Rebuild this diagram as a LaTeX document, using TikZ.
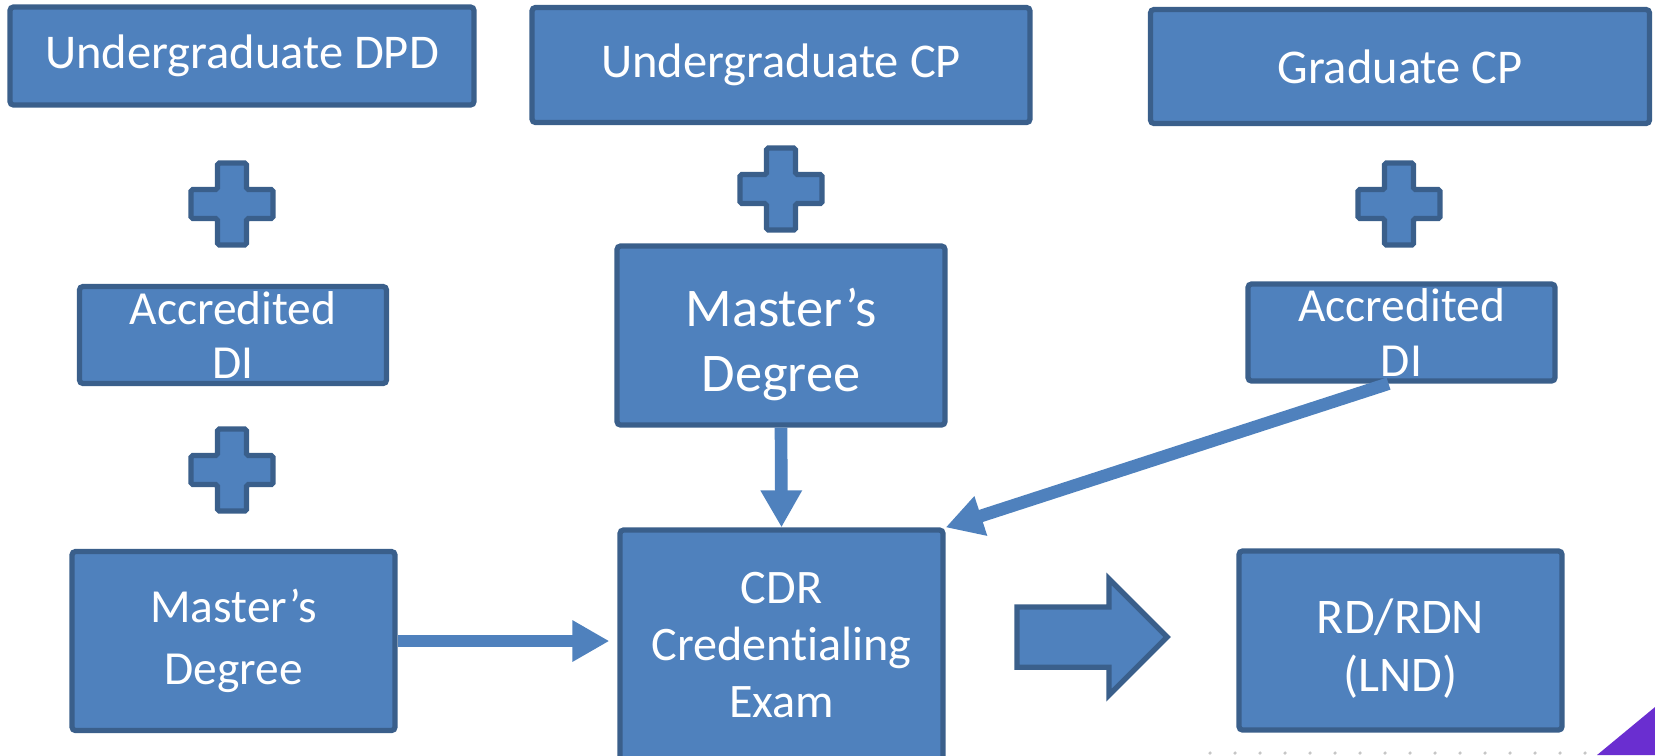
\documentclass[tikz,border=0pt]{standalone}
\usepackage{fontspec}
\setmainfont[Ligatures=NoCommon]{Carlito}
\usepackage{tikz}
\usetikzlibrary{arrows.meta,shapes.arrows}
\definecolor{boxfill}{HTML}{4F81BD}
\definecolor{boxedge}{HTML}{3A5F8B}
\definecolor{cornerpurple}{RGB}{106,46,208}
\newcommand*\boxline{1.5pt}
\newcommand*\linkwidth{3.6pt}
\newcommand*\plusarm{0.145}
\newcommand*\plushalf{0.41}
\tikzset{
    box/.style      = {draw=boxedge, fill=boxfill, line width=\boxline,
                      rounded corners=1pt, text=white, align=center,
                      inner sep=0pt, font=\fontsize{13.8}{17}\selectfont},
    dibox/.style    = {box, minimum width=3.07cm, minimum height=0.97cm,
                      font=\fontsize{13.5}{15.6}\selectfont},
    degreebox/.style= {box, minimum width=3.23cm, minimum height=1.79cm,
                      font=\fontsize{13.5}{17.5}\selectfont},
    examtext/.style = {font=\fontsize{13.7}{16.2}\selectfont},
    rdtext/.style   = {font=\fontsize{14.2}{16.6}\selectfont},
    bigarrow/.style = {single arrow, draw=boxedge, fill=boxfill,
                      line width=\boxline, inner sep=0.275cm,
                      minimum height=1.5cm, single arrow head extend=0.28cm},
    link/.style     = {draw=boxfill, line width=\linkwidth,
                      -{Triangle[width=0.39cm,length=0.37cm]}},
    plusmark/.pic   = {
        \filldraw[draw=boxedge, fill=boxfill, line width=\boxline,
                  rounded corners=0.5pt]
          (-\plushalf,-\plusarm) -- (-\plusarm,-\plusarm) -- (-\plusarm,-\plushalf)
          -- (\plusarm,-\plushalf) -- (\plusarm,-\plusarm) -- (\plushalf,-\plusarm)
          -- (\plushalf,\plusarm) -- (\plusarm,\plusarm) -- (\plusarm,\plushalf)
          -- (-\plusarm,\plushalf) -- (-\plusarm,\plusarm) -- (-\plushalf,\plusarm)
          -- cycle;
    },
  }

\begin{document}
\begin{tikzpicture}
      \useasboundingbox (0,0) rectangle (16.55,-7.55);
      \clip (0,0) rectangle (16.55,-7.55);

      % top row of programmes
      \node[box, minimum width=4.64cm, minimum height=0.98cm] (ugdpd) at (2.42,-0.56) {Undergraduate DPD};
      \node[box, minimum width=4.98cm, minimum height=1.15cm] (ugcp) at (7.81,-0.65) {Undergraduate CP};
      \node[box, minimum width=4.99cm, minimum height=1.14cm] (gcp) at (14.0,-0.665) {Graduate CP};

      % plus signs
      \foreach \x/\y in {2.32/-2.04, 2.32/-4.70, 7.81/-1.89, 13.99/-2.04} {
        \pic at (\x,\y) {plusmark};
      }

      % middle row
      \node[dibox] (diL) at (2.33,-3.35) {Accredited\\DI};
      \node[degreebox, minimum width=3.28cm, font=\fontsize{15.5}{18.5}\selectfont] (msM) at (7.81,-3.355) {\rule{0pt}{15.8pt}Master’s\\Degree};
      \node[dibox] (diR) at (14.015,-3.325) {Accredited\\DI};

      % bottom row
      \node[degreebox] (msL) at (2.335,-6.41) {Master’s\\Degree};
      \node[box, minimum width=3.23cm, minimum height=2.3cm, examtext] (cdr) at (7.815,-6.45) {CDR\\Credentialing\\Exam};
      \node[degreebox, rdtext] (rd) at (14.005,-6.405) {\rule{0pt}{14.3pt}RD/RDN\\(LND)};
      \node[bigarrow] (toRD) at (10.77,-6.37) {};

      % connectors into the exam
      \draw[link] (msM.south) -- (cdr.north);
      \draw[link, shorten >=0.08cm] (msL.east) -- (msL.east -| cdr.west);
      \draw[link] ([xshift=-0.13cm]diR.south) -- (cdr.north east);

      % corner decoration
      \foreach \x in {12.1,12.35,...,15.9} {
        \fill[gray!45] (\x,-7.53) circle (0.018);
      }
      \fill[cornerpurple] (15.97,-7.55) -- (16.55,-7.07) -- (16.55,-7.55) -- cycle;
    \end{tikzpicture}
\end{document}
